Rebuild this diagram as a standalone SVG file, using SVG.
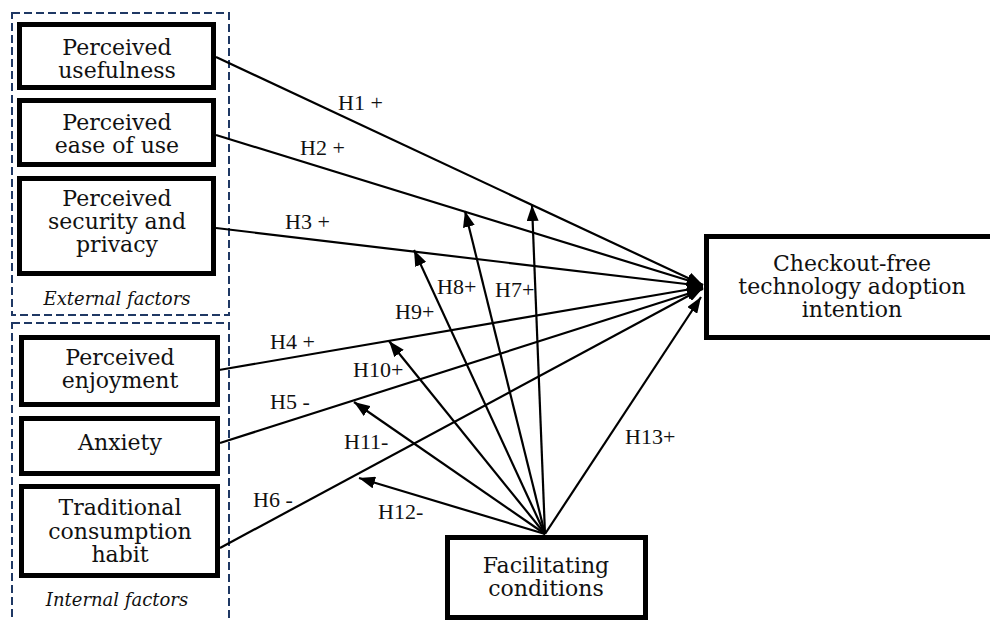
<svg xmlns="http://www.w3.org/2000/svg" width="990" height="621" viewBox="0 0 990 621">
<defs>
<marker id="ah" markerUnits="userSpaceOnUse" markerWidth="16" markerHeight="12" refX="16" refY="6" orient="auto">
<path d="M0,0 L16,6 L0,12 z" fill="#000"/>
</marker>
<style>
.box{fill:#fff;stroke:#000;stroke-width:5}
.grp{fill:none;stroke:#1f3864;stroke-width:2;stroke-dasharray:8 4}
.nt{font-family:"DejaVu Serif",Georgia,serif;font-size:22px;text-anchor:middle;fill:#111}
.gt{font-family:"DejaVu Serif",Georgia,serif;font-style:italic;font-size:18px;text-anchor:middle;fill:#111}
.lb{font-family:"Liberation Serif","Times New Roman",serif;font-size:22px;fill:#111}
.cn{stroke:#000;stroke-width:2.2;fill:none;marker-end:url(#ah)}
</style>
</defs>
<rect width="990" height="621" fill="#fff"/>
<g id="groups">
<rect class="grp" x="12" y="13" width="217" height="302"/>
<rect class="grp" x="12" y="323" width="217" height="320"/>
<text class="gt" x="117" y="305">External factors</text>
<text class="gt" x="117" y="606">Internal factors</text>
</g>
<g id="connectors">
<line class="cn" x1="216" y1="57" x2="703" y2="285"/>
<line class="cn" x1="216" y1="135" x2="703" y2="285"/>
<line class="cn" x1="216" y1="228" x2="703" y2="286"/>
<line class="cn" x1="219" y1="370" x2="703" y2="287"/>
<line class="cn" x1="220" y1="443" x2="703" y2="289"/>
<line class="cn" x1="220" y1="548" x2="703" y2="288"/>
<line class="cn" x1="545" y1="534" x2="532" y2="205"/>
<line class="cn" x1="545" y1="534" x2="465" y2="211"/>
<line class="cn" x1="545" y1="534" x2="414" y2="250"/>
<line class="cn" x1="545" y1="534" x2="389" y2="341"/>
<line class="cn" x1="545" y1="534" x2="354" y2="402"/>
<line class="cn" x1="545" y1="534" x2="359" y2="478"/>
<line class="cn" x1="545" y1="534" x2="701" y2="297"/>
</g>
<g id="labels">
<text class="lb" x="338" y="110">H1 +</text>
<text class="lb" x="300" y="155">H2 +</text>
<text class="lb" x="285" y="229">H3 +</text>
<text class="lb" x="437" y="294">H8+</text>
<text class="lb" x="495" y="297">H7+</text>
<text class="lb" x="395" y="319">H9+</text>
<text class="lb" x="270" y="349">H4 +</text>
<text class="lb" x="353" y="377">H10+</text>
<text class="lb" x="270" y="409">H5 -</text>
<text class="lb" x="344" y="449">H11-</text>
<text class="lb" x="253" y="507">H6 -</text>
<text class="lb" x="378" y="519">H12-</text>
<text class="lb" x="625" y="444">H13+</text>
</g>
<g id="pu">
<rect class="box" x="19.5" y="24.5" width="194" height="63"/>
<text class="nt" x="117" y="55">Perceived</text>
<text class="nt" x="117" y="78">usefulness</text>
</g>
<g id="peou">
<rect class="box" x="19.5" y="100.5" width="194" height="64"/>
<text class="nt" x="117" y="130">Perceived</text>
<text class="nt" x="117" y="153">ease of use</text>
</g>
<g id="psp">
<rect class="box" x="19.5" y="178.5" width="194" height="95"/>
<text class="nt" x="117" y="206">Perceived</text>
<text class="nt" x="117" y="229">security and</text>
<text class="nt" x="117" y="252">privacy</text>
</g>
<g id="pe">
<rect class="box" x="21.5" y="337.5" width="196" height="67"/>
<text class="nt" x="120" y="365">Perceived</text>
<text class="nt" x="120" y="388">enjoyment</text>
</g>
<g id="anx">
<rect class="box" x="21.5" y="418.5" width="196" height="55"/>
<text class="nt" x="120" y="450">Anxiety</text>
</g>
<g id="tch">
<rect class="box" x="21.5" y="486.5" width="196" height="89"/>
<text class="nt" x="120" y="515">Traditional</text>
<text class="nt" x="120" y="539">consumption</text>
<text class="nt" x="120" y="562">habit</text>
</g>
<g id="target">
<rect class="box" x="706.5" y="236.5" width="300" height="101"/>
<text class="nt" x="852" y="271">Checkout-free</text>
<text class="nt" x="852" y="294">technology adoption</text>
<text class="nt" x="852" y="317">intention</text>
</g>
<g id="fc">
<rect class="box" x="447.5" y="537.5" width="198" height="80"/>
<text class="nt" x="546" y="573">Facilitating</text>
<text class="nt" x="546" y="596">conditions</text>
</g>
</svg>
